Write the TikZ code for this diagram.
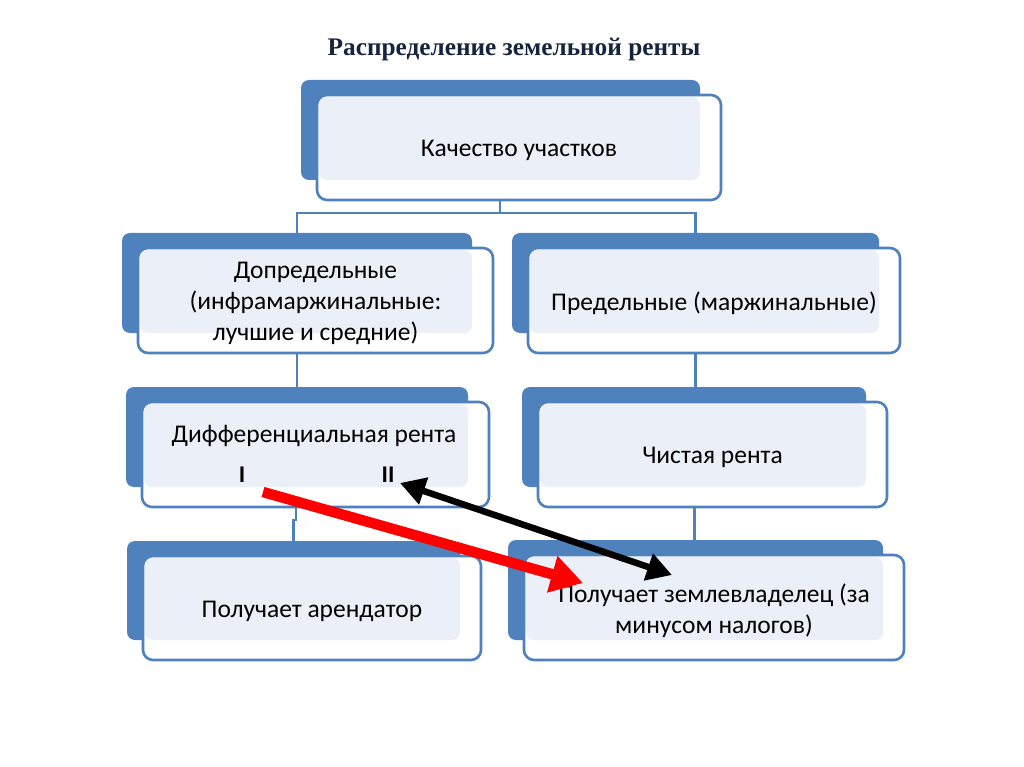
\documentclass[tikz,border=0pt]{standalone}
\usepackage{fontspec}
\setmainfont{Carlito}
\newfontfamily\titlefont{Liberation Serif}
\usetikzlibrary{arrows.meta}
\definecolor{blueC}{RGB}{79,129,189}
\definecolor{lightC}{RGB}{235,240,248}
\definecolor{navyC}{RGB}{23,36,62}
\tikzset{
  backbox/.style={fill=blueC, rounded corners=8pt, inner sep=0pt},
  frontbox/.style={draw=blueC, line width=2.6pt, fill=white, rounded corners=10pt, inner sep=0pt},
  conn/.style={draw=blueC, line width=2.6pt},
  lbl/.style={font=\fontsize{25.5}{31}\selectfont, align=center, text=black, inner sep=0pt, yshift=-3pt},
  rnum/.style={font=\bfseries\fontsize{24}{28}\selectfont, text=black, inner sep=0pt},
  redarrow/.style={draw=red, line width=10.5pt, -{Triangle[length=32pt,width=36pt]}},
  blackarrow/.style={draw=black, line width=6.5pt, {Triangle[length=25pt,width=27pt]}-{Triangle[length=25pt,width=27pt]}},
}
% #1 name, #2 x1, #3 y1, #4 x2, #5 y2 (back rectangle), #6 text
\newcommand\slbox[6]{%
  \node[backbox, minimum width={(#4)-(#2)}, minimum height={(#5)-(#3)}] (#1) at ({((#2)+(#4))/2},{((#3)+(#5))/2}) {};
  \node[frontbox, minimum width={(#4)-(#2)+5}, minimum height={(#5)-(#3)+5}] (#1f) at ({((#2)+(#4))/2+18.5},{((#3)+(#5))/2+17.5}) {};
  \fill[lightC, rounded corners=8pt] ({(#2)+18},{(#3)+17}) rectangle (#4,#5);
  \node[lbl] (#1t) at (#1f.center) {#6};
}
\begin{document}
\begin{tikzpicture}[x=1pt,y=-1pt]
\useasboundingbox (0,0) rectangle (1024,767);
\fill[white] (0,0) rectangle (1024,767);
\node[font=\titlefont\bfseries\fontsize{25.3}{30}\selectfont, text=navyC, inner sep=0pt] (title) at (514,49) {Распределение земельной ренты};
% connectors (behind boxes)
\coordinate (bus1) at (500,213);
\coordinate (jog) at (296,520);
\draw[conn] (500,180) -- (bus1);
\draw[conn] (297,233) |- (bus1) -| (695.5,233);
\draw[conn] (297,333) -- (297,387);
\draw[conn] (695.5,333) -- (695.5,387);
\draw[conn] (296,487) -- (jog) -| (293.5,541);
\draw[conn] (694.5,487) -- (694.5,540);
% boxes
\slbox{b1}{301}{80}{700}{180}{Качество участков}
\slbox{b2}{122}{233}{472}{333}{Допредельные\\(инфрамаржинальные:\\лучшие и средние)}
\slbox{b3}{512}{233}{879}{333}{Предельные (маржинальные)}
\slbox{b4}{126}{387}{468}{487}{}
\slbox{b5}{522}{387}{866}{487}{Чистая рента}
\slbox{b6}{127}{541}{460}{640}{Получает арендатор}
\slbox{b7}{508}{540}{883}{640}{Получает землевладелец (за\\минусом налогов)}
\node[lbl] (diff) at (314,433) {Дифференциальная рента};
\node[rnum] (r1) at (242,475) {I};
\node[rnum] (r2) at (388,475) {II};
% arrows
\coordinate (ra) at (263,492);
\coordinate (rb) at (583,583);
\coordinate (ka) at (400,483);
\coordinate (kb) at (672,575);
\draw[redarrow] (ra) -- (rb);
\draw[blackarrow] (ka) -- (kb);
\end{tikzpicture}
\end{document}
